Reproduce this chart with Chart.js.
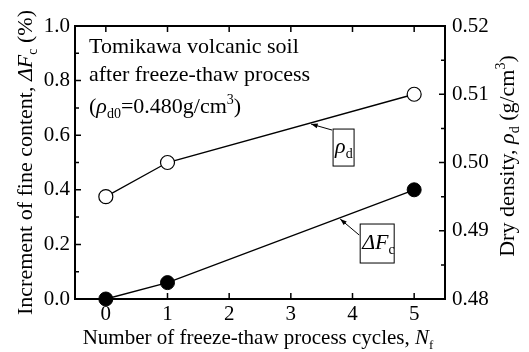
<!DOCTYPE html>
<html>
<head>
<meta charset="utf-8">
<script src="https://cdn.jsdelivr.net/npm/chart.js@4.4.1/dist/chart.umd.min.js"></script>
<style>
  html, body { margin: 0; padding: 0; background: #fff; }
  #wrap { width: 529px; height: 352px; }
</style>
</head>
<body>
<div id="wrap"><canvas id="myChart" width="529" height="352"></canvas></div>
<script>
// freeze-thaw cycles and measured values
const cycles = [0, 1, 5];
const fineIncrement = [0.0, 0.06, 0.40];   // ΔFc (%)
const dryDensity = [0.495, 0.500, 0.510];  // ρd (g/cm3)

const xTicks = [0, 1, 2, 3, 4, 5];
const leftTicks = [0.0, 0.2, 0.4, 0.6, 0.8, 1.0];
const rightTicks = [0.48, 0.49, 0.50, 0.51, 0.52];

const FONT = "'Liberation Serif', 'Times New Roman', serif";

// draws a run of segments: {t, it, sub, sup}
function richText(ctx, parts, x, y, align, size) {
    size = size || 22;
    const small = Math.round(size * 0.64);
    const fontOf = p => (p.it ? "italic " : "") + ((p.sub || p.sup) ? small : size) + "px " + FONT;
    let total = 0;
    parts.forEach(p => { ctx.font = fontOf(p); total += ctx.measureText(p.t).width; });
    let cx = align === "center" ? x - total / 2 : x;
    ctx.textAlign = "left";
    ctx.textBaseline = "alphabetic";
    parts.forEach(p => {
        ctx.font = fontOf(p);
        let dy = p.sub ? 5 : (p.sup ? -9 : 0);
        ctx.fillText(p.t, cx, y + dy);
        cx += ctx.measureText(p.t).width;
    });
    return total;
}

function arrow(ctx, x1, y1, x2, y2) {
    ctx.beginPath();
    ctx.moveTo(x1, y1);
    ctx.lineTo(x2, y2);
    ctx.stroke();
    const a = Math.atan2(y2 - y1, x2 - x1);
    const len = 7, w = 0.35;
    ctx.beginPath();
    ctx.moveTo(x2, y2);
    ctx.lineTo(x2 - len * Math.cos(a - w), y2 - len * Math.sin(a - w));
    ctx.lineTo(x2 - len * Math.cos(a + w), y2 - len * Math.sin(a + w));
    ctx.closePath();
    ctx.fill();
}

// point on a dataset's polyline between two points
function along(chart, di, i0, i1, f) {
    const pts = chart.getDatasetMeta(di).data;
    return {
        x: pts[i0].x + (pts[i1].x - pts[i0].x) * f,
        y: pts[i0].y + (pts[i1].y - pts[i0].y) * f
    };
}

const framePlugin = {
    id: "frame",
    afterDraw(chart) {
        const ctx = chart.ctx;
        const a = chart.chartArea;
        const xs = chart.scales.x, yl = chart.scales.y, yr = chart.scales.y2;
        ctx.save();
        ctx.strokeStyle = "#000";
        ctx.fillStyle = "#000";
        ctx.lineWidth = 2;
        ctx.strokeRect(a.left, a.top, a.right - a.left, a.bottom - a.top);

        // inward ticks
        ctx.lineWidth = 1.5;
        ctx.beginPath();
        xTicks.forEach(v => {
            const px = xs.getPixelForValue(v);
            ctx.moveTo(px, a.bottom); ctx.lineTo(px, a.bottom - 6);
            ctx.moveTo(px, a.top); ctx.lineTo(px, a.top + 6);
        });
        for (let v = 0; v <= 1.0001; v += 0.1) {
            const py = yl.getPixelForValue(v);
            const len = Math.round(v * 10) % 2 === 0 ? 6 : 4;
            ctx.moveTo(a.left, py); ctx.lineTo(a.left + len, py);
        }
        for (let v = 0.48; v <= 0.52001; v += 0.005) {
            const py = yr.getPixelForValue(v);
            const len = Math.round(v * 1000) % 10 === 0 ? 6 : 4;
            ctx.moveTo(a.right, py); ctx.lineTo(a.right - len, py);
        }
        ctx.stroke();

        // axis titles
        ctx.save();
        ctx.translate(26, (a.top + a.bottom) / 2);
        ctx.rotate(-Math.PI / 2);
        richText(ctx, [
            { t: "Increment of fine content, " }, { t: "ΔF", it: true }, { t: "c", sub: true }, { t: " (%)" }
        ], 0, 6, "center", 22);
        ctx.restore();

        ctx.save();
        ctx.translate(508, 156);
        ctx.rotate(-Math.PI / 2);
        richText(ctx, [
            { t: "Dry density, " }, { t: "ρ", it: true }, { t: "d", sub: true },
            { t: " (g/cm" }, { t: "3", sup: true }, { t: ")" }
        ], 0, 6, "center", 22);
        ctx.restore();

        richText(ctx, [
            { t: "Number of freeze-thaw process cycles, " }, { t: "N", it: true }, { t: "f", sub: true }
        ], (a.left + a.right) / 2 - 2, 344, "center", 21);

        // condition notes
        const tx = a.left + 14;
        richText(ctx, [{ t: "Tomikawa volcanic soil" }], tx, a.top + 27);
        richText(ctx, [{ t: "after freeze-thaw process" }], tx, a.top + 55);
        richText(ctx, [
            { t: "(" }, { t: "ρ", it: true }, { t: "d0", sub: true }, { t: "=0.480g/cm" }, { t: "3", sup: true }, { t: ")" }
        ], tx, a.top + 87);

        // series labels with leader arrows
        ctx.lineWidth = 1;
        const tipR = along(chart, 1, 1, 2, 0.578);
        ctx.strokeRect(tipR.x + 23, tipR.y + 6, 21, 37);
        richText(ctx, [{ t: "ρ", it: true }, { t: "d", sub: true }], tipR.x + 25, tipR.y + 30);
        arrow(ctx, tipR.x + 22, tipR.y + 7, tipR.x + 1, tipR.y + 1);

        const tipF = along(chart, 0, 1, 2, 0.696);
        ctx.strokeRect(tipF.x + 21, tipF.y + 6, 34, 39);
        richText(ctx, [{ t: "ΔF", it: true }, { t: "c", sub: true }], tipF.x + 23, tipF.y + 31);
        arrow(ctx, tipF.x + 20, tipF.y + 17, tipF.x + 1, tipF.y + 1);
        ctx.restore();
    }
};

const tickFont = { family: FONT, size: 21 };
const noGrid = { display: false, drawTicks: false, tickLength: 0 };

new Chart(document.getElementById("myChart").getContext("2d"), {
    type: "line",
    data: {
        datasets: [{
            label: "ΔFc",
            data: cycles.map((c, i) => ({ x: c, y: fineIncrement[i] })),
            yAxisID: "y",
            borderColor: "#000",
            backgroundColor: "#000",
            borderWidth: 1.3,
            pointRadius: 7,
            pointBorderWidth: 1,
            pointBackgroundColor: "#000",
            pointBorderColor: "#000",
            clip: false
        }, {
            label: "ρd",
            data: cycles.map((c, i) => ({ x: c, y: dryDensity[i] })),
            yAxisID: "y2",
            borderColor: "#000",
            backgroundColor: "#fff",
            borderWidth: 1.3,
            pointRadius: 7,
            pointBorderWidth: 1.2,
            pointBackgroundColor: "#fff",
            pointBorderColor: "#000",
            clip: false
        }]
    },
    options: {
        responsive: false,
        animation: false,
        layout: { padding: { top: 26, left: 0, right: 0, bottom: 0 } },
        plugins: { legend: { display: false }, tooltip: { enabled: false } },
        scales: {
            x: {
                type: "linear",
                min: -0.5, max: 5.5,
                afterBuildTicks: s => { s.ticks = xTicks.map(v => ({ value: v })); },
                afterFit: s => { s.height = 53; },
                grid: noGrid,
                border: { display: false },
                ticks: { font: tickFont, color: "#000", padding: 3, maxRotation: 0,
                         callback: v => String(v) }
            },
            y: {
                position: "left",
                min: 0, max: 1.0,
                afterBuildTicks: s => { s.ticks = leftTicks.map(v => ({ value: v })); },
                afterFit: s => { s.width = 75; },
                grid: noGrid,
                border: { display: false },
                ticks: { font: tickFont, color: "#000", padding: 5,
                         callback: v => v.toFixed(1) }
            },
            y2: {
                position: "right",
                min: 0.48, max: 0.52,
                afterBuildTicks: s => { s.ticks = rightTicks.map(v => ({ value: v })); },
                afterFit: s => { s.width = 84; },
                grid: noGrid,
                border: { display: false },
                ticks: { font: tickFont, color: "#000", padding: 7,
                         callback: v => v.toFixed(2) }
            }
        }
    },
    plugins: [framePlugin]
});
</script>
</body>
</html>
